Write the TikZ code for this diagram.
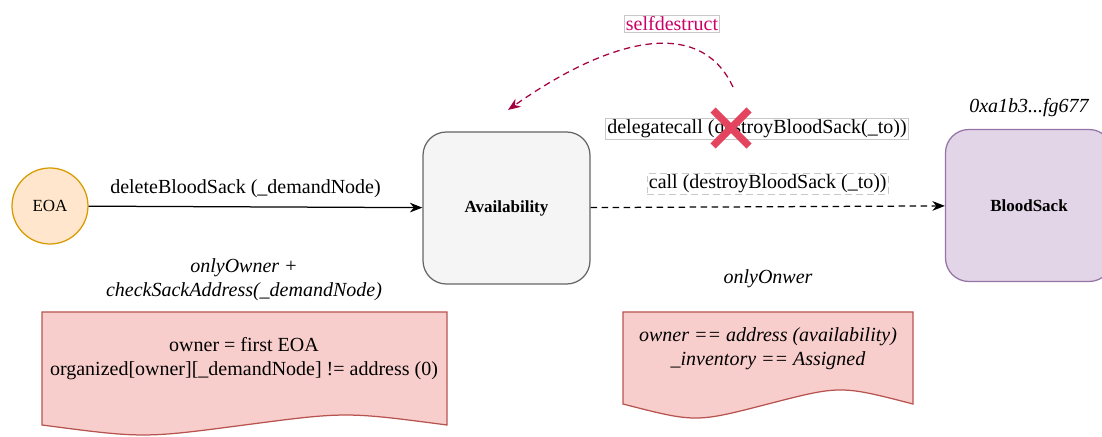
\documentclass[tikz,border=0pt]{standalone}
\usepackage{fontspec}
\setmainfont{Liberation Serif}
\usetikzlibrary{arrows.meta,positioning}
\definecolor{eoafill}{HTML}{FFE6CC}
\definecolor{eoaline}{HTML}{D79B00}
\definecolor{availfill}{HTML}{F5F5F5}
\definecolor{availline}{HTML}{666666}
\definecolor{sackfill}{HTML}{E1D5E7}
\definecolor{sackline}{HTML}{9673A6}
\definecolor{notefill}{HTML}{F8CECC}
\definecolor{noteline}{HTML}{B85450}
\definecolor{crossred}{HTML}{E3455F}
\definecolor{killtext}{HTML}{CC0066}
\definecolor{killline}{HTML}{A50040}
\definecolor{tagline}{HTML}{C8C8C8}

\begin{document}
\begin{tikzpicture}[
		x=0.6pt, y=-0.6pt,
		every node/.style={font=\fontsize{12}{14.4}\selectfont},
		contract/.style={draw=availline, fill=availfill, line width=0.75pt, rounded corners=14pt,
			minimum width=100.2pt, minimum height=91.2pt, font=\fontsize{10.2}{12}\selectfont\bfseries},
		account/.style={circle, draw=eoaline, fill=eoafill, line width=0.75pt, minimum size=45.6pt,
			inner sep=0pt, font=\fontsize{10.2}{12}\selectfont},
		note/.style={draw=noteline, fill=notefill, line width=0.75pt},
		remark/.style={font=\fontsize{12}{14.4}\selectfont\itshape, align=center},
		tag/.style={draw=tagline, line width=0.5pt, inner sep=1pt},
		msg/.style={line width=0.75pt, -{Stealth[length=7.5pt,width=5.8pt,inset=2.4pt]}},
		calldash/.style={dash pattern=on 3.9pt off 2.7pt},
		crossline/.style={crossred, line width=4.4pt},
	]
		\useasboundingbox (0,0) rectangle (1102,437);
		\clip (0,0) rectangle (1102,437);
		
		\node[account] (eoa) at (50,206) {EOA};
		\node[contract] (avail) at (506.5,208) {Availability};
		\node[contract, draw=sackline, fill=sackfill] (sack) at (1029,205.5) {BloodSack};
		
		\draw[msg] (eoa) -- (avail) node[pos=0.47, above=2pt] {deleteBloodSack (\_demandNode)};
		\draw[msg, calldash] (avail) -- (sack) node[midway, above=7pt, tag] {call (destroyBloodSack (\_to))};
		
		\node[tag] (delegate) at (757,129) {delegatecall (destroyBloodSack(\_to))};
		\draw[crossline] (713,110) -- (749,146) (713,146) -- (749,110);
		
		\node[tag, text=killtext] (kill) at (672,24) {selfdestruct};
		\coordinate (killfrom) at (733,87);
		\coordinate (killto) at (508,110);
		\draw[msg, killline, calldash] (killfrom) .. controls (700,16) and (610,38) .. (killto);
		
		\node[remark] (ownercheck) at (244,280) {onlyOwner +\\checkSackAddress(\_demandNode)};
		\node[remark] (onlyonwer) at (768,279) {onlyOnwer};
		\node[remark] (sackaddr) at (1029,108) {0xa1b3...fg677};
		
		\draw[note] (42,312) -- (447,312) -- (447,425) .. controls (345.75,411.7) .. (244.5,425)
			.. controls (143.25,438.3) .. (42,425) -- cycle;
		\node[align=center] (leftnote) at (244,359) {owner = first EOA\\organized[owner][\_demandNode] != address (0)};
		
		\draw[note] (623,312) -- (913,312) -- (913,404) .. controls (840.5,385.3) .. (768,404)
			.. controls (695.5,422.7) .. (623,404) -- cycle;
		\node[remark] (rightnote) at (768,349) {owner == address (availability)\\\_inventory == Assigned};
	\end{tikzpicture}
\end{document}
